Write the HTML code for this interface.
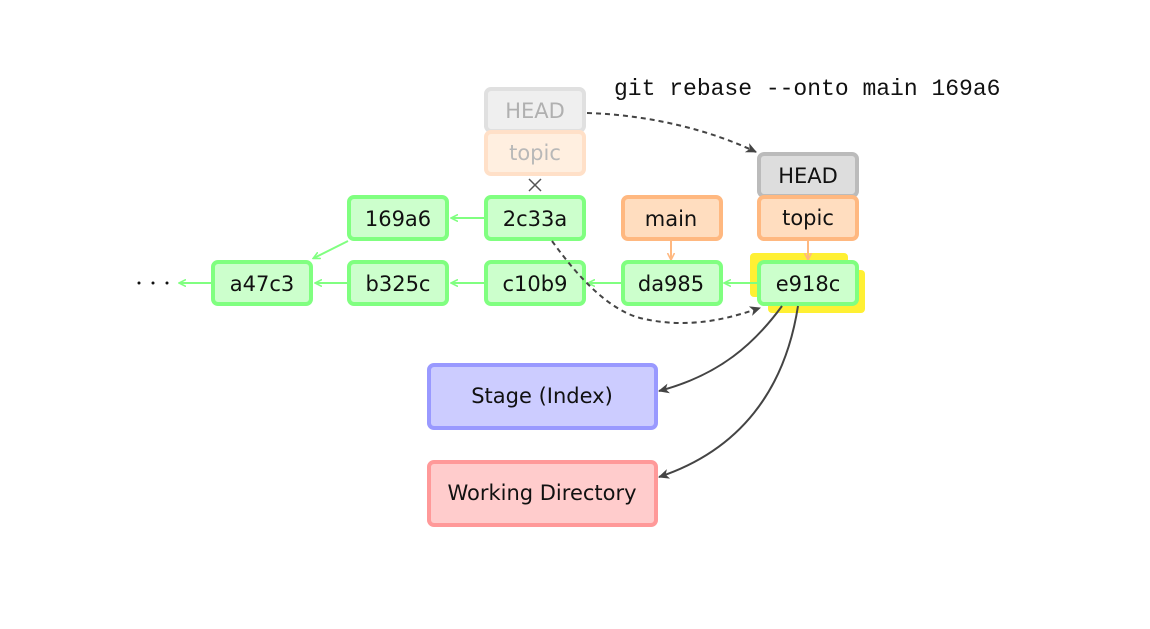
<!DOCTYPE html>
<html><head><meta charset="utf-8"><style>
html,body{margin:0;padding:0;background:#fff;width:1150px;height:629px;overflow:hidden}
text{font-family:"DejaVu Sans","Liberation Sans",sans-serif}
text.mono{font-family:"Liberation Mono","DejaVu Sans Mono",monospace}
</style></head><body>
<svg width="1150" height="629" viewBox="0 0 1150 629" xmlns="http://www.w3.org/2000/svg">
<defs>
<marker id="ag" markerWidth="8" markerHeight="8" refX="6" refY="4" orient="auto" markerUnits="userSpaceOnUse"><path d="M0,0.5 L7,4 L0,7.5" fill="none" stroke="#80ff80" stroke-width="1.6"/></marker>
<marker id="ao" markerWidth="8" markerHeight="8" refX="6" refY="4" orient="auto" markerUnits="userSpaceOnUse"><path d="M0,0.5 L7,4 L0,7.5" fill="none" stroke="#ffb880" stroke-width="1.6"/></marker>
<marker id="ad" markerWidth="12" markerHeight="10" refX="10" refY="5" orient="auto" markerUnits="userSpaceOnUse"><path d="M0,0 L11,5 L0,10 L3,5 Z" fill="#444"/></marker>
</defs>
<g font-size="21" text-anchor="middle">
<rect x="750" y="253" width="98" height="44" rx="4" fill="#fff033"/>
<rect x="768" y="270" width="97" height="43" rx="4" fill="#fff033"/>
<rect x="486" y="89" width="98" height="42" rx="5" fill="#efefef" stroke="#e0e0e0" stroke-width="4"/>
<text x="535" y="118" fill="#b0b0b0">HEAD</text>
<rect x="486" y="132" width="98" height="42" rx="5" fill="#ffefe0" stroke="#ffe0c8" stroke-width="4"/>
<text x="535" y="160" fill="#b8b8b8">topic</text>
<path d="M529,179 L541,191 M541,179 L529,191" stroke="#555" stroke-width="1.5"/>
<g stroke="#80ff80" stroke-width="2" fill="none" marker-end="url(#ag)">
<line x1="484" y1="218" x2="452" y2="218"/>
<line x1="348" y1="241" x2="314" y2="258"/>
<line x1="211" y1="283" x2="180" y2="283"/>
<line x1="347" y1="283" x2="316" y2="283"/>
<line x1="484" y1="283" x2="452" y2="283"/>
<line x1="621" y1="283" x2="589" y2="283"/>
<line x1="757" y1="283" x2="725" y2="283"/>
</g>
<g stroke="#ffb880" stroke-width="2" fill="none" marker-end="url(#ao)">
<line x1="671" y1="241" x2="671" y2="259"/>
<line x1="808" y1="241" x2="808" y2="259"/>
</g>
<g fill="#ccffcc" stroke="#80ff80" stroke-width="4">
<rect x="349" y="197" width="98" height="42" rx="5"/>
<rect x="486" y="197" width="98" height="42" rx="5"/>
<rect x="213" y="262" width="98" height="42" rx="5"/>
<rect x="349" y="262" width="98" height="42" rx="5"/>
<rect x="486" y="262" width="98" height="42" rx="5"/>
<rect x="623" y="262" width="98" height="42" rx="5"/>
<rect x="759" y="262" width="98" height="42" rx="5"/>
</g>
<g fill="#111">
<text x="398" y="226">169a6</text>
<text x="535" y="226">2c33a</text>
<text x="262" y="291">a47c3</text>
<text x="398" y="291">b325c</text>
<text x="535" y="291">c10b9</text>
<text x="671" y="291">da985</text>
<text x="808" y="291">e918c</text>
<circle cx="139" cy="283" r="1.5"/><circle cx="153" cy="283" r="1.5"/><circle cx="167" cy="283" r="1.5"/>
</g>
<rect x="623" y="197" width="98" height="42" rx="5" fill="#ffddbf" stroke="#ffb880" stroke-width="4"/>
<text x="671" y="226" fill="#111">main</text>
<rect x="759" y="154" width="98" height="42" rx="5" fill="#dddddd" stroke="#bbbbbb" stroke-width="4"/>
<text x="808" y="183" fill="#111">HEAD</text>
<rect x="759" y="197" width="98" height="42" rx="5" fill="#ffddbf" stroke="#ffb880" stroke-width="4"/>
<text x="808" y="225" fill="#111">topic</text>
<rect x="429" y="365" width="227" height="63" rx="5" fill="#ccccff" stroke="#9999ff" stroke-width="4"/>
<text x="542" y="403" fill="#111">Stage (Index)</text>
<rect x="429" y="462" width="227" height="63" rx="5" fill="#ffcccc" stroke="#ff9999" stroke-width="4"/>
<text x="542" y="500" fill="#111">Working Directory</text>
<g stroke="#444" stroke-width="2" fill="none" marker-end="url(#ad)">
<path d="M587,113 C650,115 710,130 756,152" stroke-dasharray="5,4"/>
<path d="M552,241 C580,280 610,310 640,318 C690,330 730,318 760,308" stroke-dasharray="5,4"/>
<path d="M782,306 C755,343 720,375 659,391"/>
<path d="M798,306 C785,390 740,450 659,477"/>
</g>
<text class="mono" x="614" y="95" font-size="23" text-anchor="start" fill="#111">git rebase --onto main 169a6</text>
</g>
</svg>
</body></html>
